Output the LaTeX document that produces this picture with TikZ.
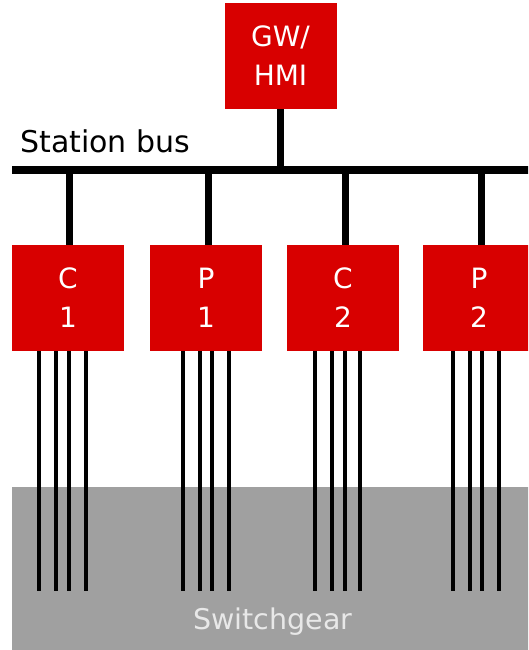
\documentclass[tikz,border=0pt]{standalone}
\usepackage{fontspec}
\setmainfont{DejaVu Sans}
\definecolor{ied}{RGB}{216,0,0}
\definecolor{gear}{RGB}{160,160,160}
\definecolor{gearText}{RGB}{232,232,232}
\begin{document}
\begin{tikzpicture}[x=1pt,y=-1pt,
  iedbox/.style={fill=ied, draw=none, minimum width=112pt, minimum height=106pt, inner sep=0pt,
    text=white, align=center, font=\fontsize{28}{39}\selectfont},
  busline/.style={line width=8pt},
  stemline/.style={line width=7pt},
  wire/.style={line width=3.6pt}]
\clip (0,0) rectangle (528,650);
\useasboundingbox (0,0) rectangle (528,650);
% switchgear area
\fill[gear] (12,487) rectangle (540,660);
\node[text=gearText, font=\fontsize{28.5}{34}\selectfont, anchor=base] (sg) at (273,629) {Switchgear};
% gateway
\node[iedbox] (gw) at (280.5,56) {GW/\\HMI};
% bus
\coordinate (busL) at (12,170);
\coordinate (busR) at (540,170);
\draw[busline] (busL) -- (busR);
\node[anchor=base west, font=\fontsize{30}{36}\selectfont, text=black, inner sep=0pt] (sb) at (20,153) {Station bus};
% IEDs
\node[iedbox] (c1) at (68,298) {C\\1};
\node[iedbox] (p1) at (206,298) {P\\1};
\node[iedbox] (c2) at (343,298) {C\\2};
\node[iedbox] (p2) at (479,298) {P\\2};
% stems
\draw[stemline] (gw.south) -- (gw.south |- busL);
\draw[stemline] (c1.north -| 69,0) -- (busL -| 69,0);
\draw[stemline] (p1.north -| 208,0) -- (busL -| 208,0);
\draw[stemline] (c2.north -| 345,0) -- (busL -| 345,0);
\draw[stemline] (p2.north -| 481,0) -- (busL -| 481,0);
% wires
\foreach \n/\xs in {c1/{39,56,69,86}, p1/{183,200,212,229}, c2/{315,332,345,360}, p2/{453,470,482,499}} {
  \foreach \x in \xs {
    \draw[wire] (\n.south -| \x,0) -- ++(0,240);
  }
}
\end{tikzpicture}
\end{document}
